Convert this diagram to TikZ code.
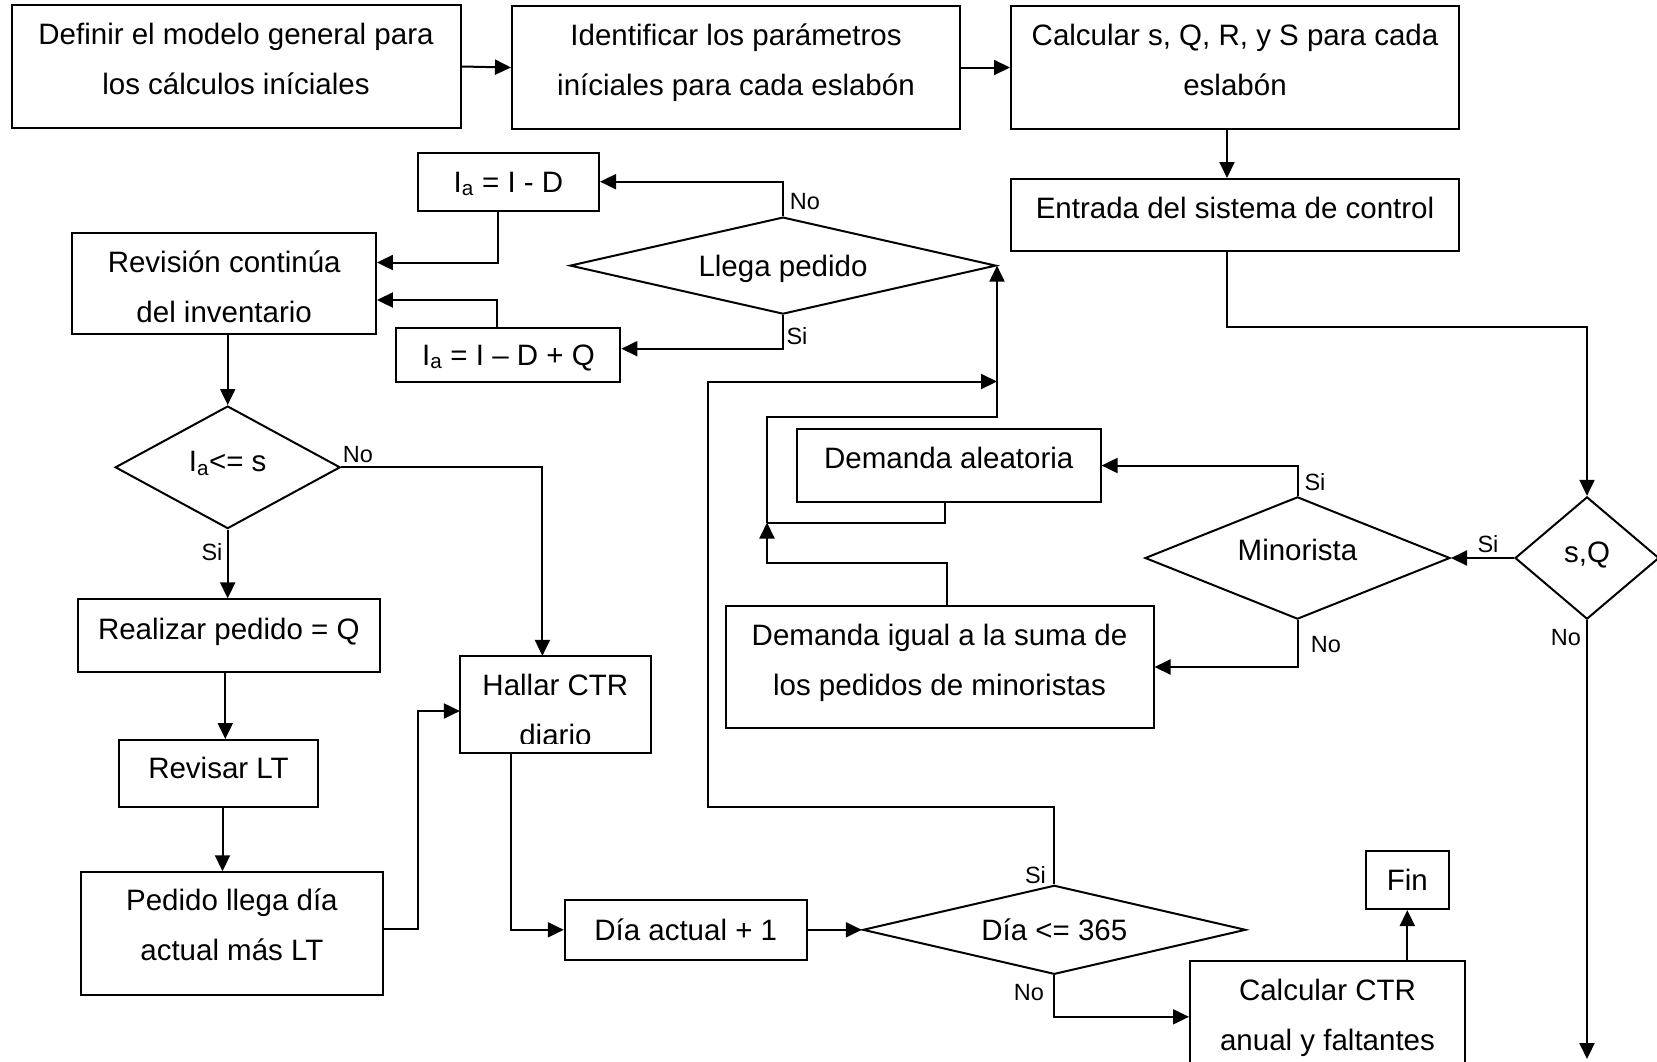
\documentclass[tikz,border=0pt]{standalone}
\usepackage{fontspec}
\setmainfont{Liberation Sans}
\usetikzlibrary{arrows.meta,shapes.geometric}

\begin{document}
\begin{tikzpicture}[x=1pt,y=-1pt]
  \tikzset{
    box/.style={draw,line width=2pt,inner sep=0pt,text height=21pt,font=\fontsize{29.5}{50}\selectfont},
    plain/.style={inner sep=0pt,outer sep=0pt,text height=21pt,font=\fontsize{29.5}{50}\selectfont},
    decision/.style={box,shape=diamond},
    flow/.style={line width=2pt,-{Triangle[length=16pt,width=15pt]}},
    link/.style={line width=2pt},
    tag/.style={inner sep=0pt,font=\fontsize{23.5}{26}\selectfont}
  }
  \useasboundingbox (0,0) rectangle (1657,1061);
  \node[box,minimum width=449pt,minimum height=123pt,align=flush center,text width=430pt,text depth=65pt] (def) at (236,66.5) {Definir el modelo general para\\los cálculos iníciales};
  \node[box,minimum width=448pt,minimum height=123pt,align=flush center,text width=430pt,text depth=65pt] (ident) at (736,67.5) {Identificar los parámetros\\iníciales para cada eslabón};
  \node[box,minimum width=448pt,minimum height=123pt,align=flush center,text width=430pt,text depth=65pt] (calc) at (1235,67.5) {Calcular s, Q, R, y S para cada\\eslabón};
  \node[box,minimum width=448pt,minimum height=72pt,text depth=14pt] (entr) at (1235,215) {Entrada del sistema de control};
  \node[box,minimum width=181pt,minimum height=58pt,text depth=0pt] (iad) at (508.5,181.7) {I\textsubscript{a} = I - D};
  \node[decision,minimum width=426pt,minimum height=97pt,aspect=4.4,text depth=0pt] (llega) at (783,265.6) {Llega pedido};
  \node[box,minimum width=303.5pt,minimum height=101.6pt,align=flush center,text width=290pt,text depth=44pt] (rev) at (224.2,283.5) {Revisión continúa\\del inventario};
  \node[box,minimum width=224pt,minimum height=54pt,text depth=0pt] (iadq) at (508.4,354.7) {I\textsubscript{a} = I -- D + Q};
  \node[decision,minimum width=225pt,minimum height=122.6pt,aspect=1.84,text depth=13pt] (ias) at (227.7,467.3) {I\textsubscript{a}<= s};
  \node[box,minimum width=302.3pt,minimum height=72.6pt,text depth=13pt] (realiz) at (228.8,635.7) {Realizar pedido = Q};
  \node[box,minimum width=199.5pt,minimum height=67pt,text depth=11pt] (revlt) at (218.5,773.5) {Revisar LT};
  \node[box,minimum width=302.2pt,minimum height=122.5pt,align=flush center,text width=290pt,text depth=67pt] (pedll) at (231.9,933.5) {Pedido llega día\\actual más LT};
  \begin{scope}
    \clip (450,650) rectangle (660,743);
    \node[plain,minimum width=191pt,minimum height=97.3pt,align=flush center,text width=180pt,text depth=40pt] (hallar) at (555.4,704.5) {Hallar CTR\\diario};
  \end{scope}
  \draw[link] (hallar.south west) rectangle (hallar.north east);
  \node[box,minimum width=241.8pt,minimum height=60.6pt,text depth=0pt] (diaa) at (685.7,929.8) {Día actual + 1};
  \node[decision,minimum width=383pt,minimum height=89pt,aspect=4.3,text depth=0pt] (dia365) at (1054.3,929.8) {Día <= 365};
  \node[box,minimum width=303.6pt,minimum height=72.4pt,text depth=16pt] (dalea) at (948.8,465.5) {Demanda aleatoria};
  \node[box,minimum width=428pt,minimum height=122.6pt,align=flush center,text width=415pt,text depth=65pt] (digual) at (939.5,667) {Demanda igual a la suma de\\los pedidos de minoristas};
  \node[decision,minimum width=305pt,minimum height=122.3pt,aspect=2.5,text depth=16pt] (minor) at (1297.5,558) {Minorista};
  \node[decision,minimum width=144pt,minimum height=122.3pt,aspect=1.18,text depth=13pt] (sq) at (1587,558) {s,Q};
  \node[box,minimum width=82.5pt,minimum height=58.3pt,text depth=0pt] (fin) at (1407.3,879.9) {Fin};
  \node[box,minimum width=275pt,minimum height=123.3pt,align=flush center,text width=262pt,text depth=64pt] (cctr) at (1327.5,1022.3) {Calcular CTR\\anual y faltantes};
  % labels
  \node[tag] (noLlega) at (805,201.7) {No};
  \node[tag] (siLlega) at (797,335.7) {Si};
  \node[tag] (noIas) at (358,455) {No};
  \node[tag] (siIas) at (212,551.6) {Si};
  \node[tag] (siMinor) at (1315,481.7) {Si};
  \node[tag] (noMinor) at (1326,644.3) {No};
  \node[tag] (siSq) at (1488,544.3) {Si};
  \node[tag] (noSq) at (1566,637.7) {No};
  \node[tag] (siDia) at (1035.5,875) {Si};
  \node[tag] (noDia) at (1029,993) {No};
  % connectors
  \coordinate (entrTurn) at (1227,326.7);
  \coordinate (igualTurn) at (767,563.3);
  \coordinate (demJoin) at (767,522.5);
  \coordinate (demUp) at (767,416.7);
  \coordinate (loopLow) at (707.5,806.7);
  \coordinate (loopHigh) at (707.5,381.5);
  \coordinate (hallTurn) at (418.3,711);
  \coordinate (sqEnd) at (1587,1059);
  \draw[flow] (def.east) -- (ident.west);
  \draw[flow] (ident.east) -- (calc.west);
  \draw[flow] ([xshift=-8pt]calc.south) -- ([xshift=-8pt]entr.north);
  \draw[flow] ([xshift=-8pt]entr.south) -- (entrTurn) -| (sq.north);
  \draw[flow] (sq.west) -- (minor.east);
  \draw[flow] (minor.north) |- (dalea.east);
  \draw[flow] (minor.south) |- (digual.east);
  \draw[flow] ([xshift=7pt]digual.north) |- (igualTurn) -- (demJoin);
  \draw[link] ([xshift=-4pt]dalea.south) |- (demJoin);
  \draw[flow] (demJoin) -- (demUp) -| (llega.east);
  \draw[flow] (dia365.north) |- (loopLow) -- (loopHigh) -- (loopHigh -| llega.east);
  \draw[flow] (llega.north) |- (iad.east);
  \draw[flow] (llega.south) |- ([yshift=6pt]iadq.east);
  \draw[flow] ([xshift=-11pt]iad.south) |- ([yshift=21pt]rev.east);
  \draw[flow] ([xshift=-11pt]iadq.north) |- ([yshift=-16.5pt]rev.east);
  \draw[flow] (ias.north |- rev.south) -- (ias.north);
  \draw[flow] (ias.south) -- (ias.south |- realiz.north);
  \draw[flow] (ias.east) -| ([xshift=-13pt]hallar.north);
  \draw[flow] ([xshift=-3.5pt]realiz.south) -- ([xshift=-3.5pt]realiz.south |- revlt.north);
  \draw[flow] ([xshift=4pt]revlt.south) -- ([xshift=4pt]revlt.south |- pedll.north);
  \draw[flow] ([xshift=-2.5pt,yshift=5pt]pedll.east) -| (hallTurn) -- (hallTurn -| hallar.west);
  \draw[flow] ([xshift=-44pt]hallar.south) |- (diaa.west);
  \draw[flow] (diaa.east) -- (dia365.west);
  \draw[flow] (dia365.south) |- ([yshift=5.5pt]cctr.west);
  \draw[flow] (fin.south |- cctr.north) -- (fin.south);
  \draw[flow] (sq.south) -- (sqEnd);
\end{tikzpicture}
\end{document}
